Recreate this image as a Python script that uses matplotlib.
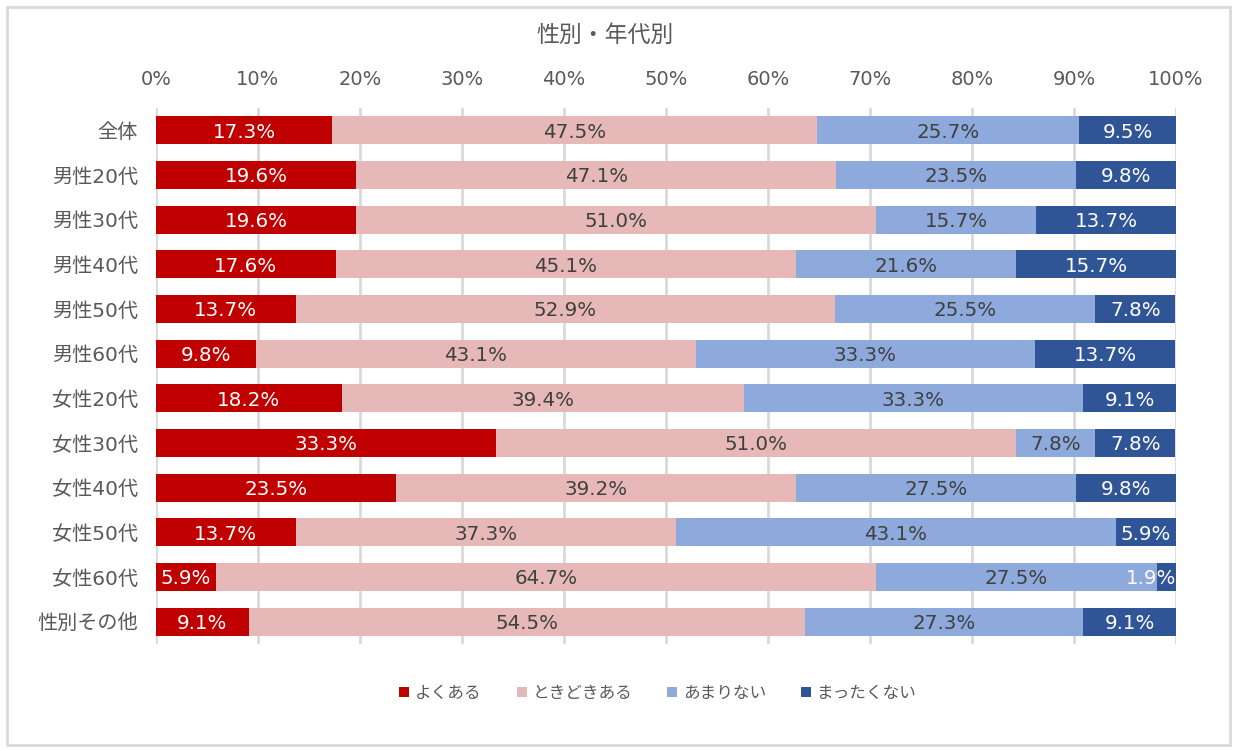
import numpy as np
import matplotlib
matplotlib.use('Agg')
from matplotlib import pyplot as plt
from matplotlib.patches import Rectangle

# Verdana-like digits from DejaVu, kana/kanji from Noto
plt.rcParams['font.family'] = ['DejaVu Sans', 'Noto Sans CJK JP']

categories = ['全体', '男性20代', '男性30代', '男性40代', '男性50代', '男性60代',
              '女性20代', '女性30代', '女性40代', '女性50代', '女性60代', '性別その他']
series_names = ['よくある', 'ときどきある', 'あまりない', 'まったくない']
yoku = [17.3, 19.6, 19.6, 17.6, 13.7, 9.8, 18.2, 33.3, 23.5, 13.7, 5.9, 9.1]
tokidoki = [47.5, 47.1, 51.0, 45.1, 52.9, 43.1, 39.4, 51.0, 39.2, 37.3, 64.7, 54.5]
amari = [25.7, 23.5, 15.7, 21.6, 25.5, 33.3, 33.3, 7.8, 27.5, 43.1, 27.5, 27.3]
mattaku = [9.5, 9.8, 13.7, 15.7, 7.8, 13.7, 9.1, 7.8, 9.8, 5.9, 1.9, 9.1]
ticks = [0, 10, 20, 30, 40, 50, 60, 70, 80, 90, 100]

colors = ['#C00000', '#E6B9B8', '#8EA9DB', '#2F5597']
text_colors = ['white', '#404040', '#404040', 'white']

fig = plt.figure(figsize=(12.37, 7.51), dpi=100)
ax = fig.add_axes([0.1261, 0.1425, 0.8246, 0.7137])

y = np.arange(len(categories))
left = np.zeros(len(categories))
labels = []
for vals, name, c, tc in zip([yoku, tokidoki, amari, mattaku], series_names, colors, text_colors):
    vals = np.array(vals)
    ax.barh(y, vals, left=left, height=0.63, color=c, label=name, zorder=3)
    for yi, l, v in zip(y, left, vals):
        t = ax.text(l + v / 2, yi + 0.04, f'{v:.1f}%', ha='center', va='center',
                    color=tc, fontsize=14.3, zorder=4)
        labels.append(t)
    left += vals

ax.set_xlim(0, 100)
ax.set_ylim(len(categories) - 0.5, -0.5)
ax.set_xticks(ticks)
ax.set_xticklabels([f'{t}%' for t in ticks], color='#595959', fontsize=14)
ax.xaxis.tick_top()
ax.set_yticks(y)
ax.set_yticklabels(categories, color='#595959', fontsize=14.5)
ax.tick_params(length=0, pad=13)
ax.tick_params(axis='x', pad=14)
ax.grid(axis='x', color='#D9D9D9', linewidth=2, zorder=0)
for s in ax.spines.values():
    s.set_visible(False)

fig.text(0.4895, 0.953, '性別・年代別', ha='center', va='center', color='#595959',
         fontsize=16.5, family=['Noto Sans CJK JP'])

fig.legend(loc='center', bbox_to_anchor=(0.532, 0.077), ncol=4, frameon=False,
           prop={'family': ['Noto Sans CJK JP'], 'size': 12},
           handlelength=0.6, handleheight=0.6, handletextpad=0.35,
           columnspacing=2.1, labelcolor='#595959')

fig.patches.append(Rectangle((7 / 1237, 6 / 751), 1223 / 1237, 738 / 751,
                             transform=fig.transFigure, fill=False,
                             edgecolor='#D9D9D9', linewidth=2))

# keep data labels inside the plot area, as the spreadsheet does
fig.canvas.draw()
r = fig.canvas.get_renderer()
ab = ax.get_window_extent(r)
inv = ax.transData.inverted()
for t in labels:
    bb = t.get_window_extent(r)
    shift = 0
    if bb.x1 > ab.x1:
        shift = ab.x1 - bb.x1
    elif bb.x0 < ab.x0:
        shift = ab.x0 - bb.x0
    if shift:
        x, yy = t.get_position()
        px = ax.transData.transform((x, yy))
        t.set_position((inv.transform((px[0] + shift, px[1]))[0], yy))

fig.savefig('out.png', dpi=100)
